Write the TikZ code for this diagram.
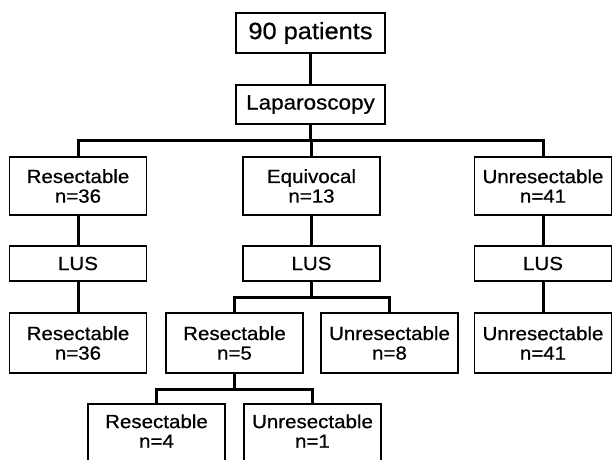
\documentclass[tikz,border=0pt]{standalone}
\usepackage{fontspec}
\setmainfont{Liberation Sans}[FakeStretch=1.08,FakeBold=0.6]
\begin{document}
\begin{tikzpicture}[x=1pt,y=-1pt,
  box/.style={draw, line width=1.3pt, inner sep=0pt, minimum width=137pt, align=center,
    font=\fontsize{19}{19.6}\selectfont},
  conn/.style={line width=3pt, line join=miter}]
\useasboundingbox (0,0) rectangle (612,459);
\clip (0,0) rectangle (612,459);
\fill[white] (0,0) rectangle (612,459);
% top
\node[box, minimum width=149pt, minimum height=40pt, font=\fontsize{23.5}{24}\selectfont] (P) at (310.5,33) {90 patients};
\node[box, minimum width=149pt, minimum height=39pt, font=\fontsize{20.8}{22}\selectfont] (L) at (310.5,104.5) {Laparoscopy};
% level 2
\node[box, minimum height=58pt] (R2) at (78,186) {Resectable\\n=36};
\node[box, minimum height=58pt] (E2) at (311.5,186) {Equivocal\\n=13};
\node[box, minimum height=58pt] (U2) at (543,186) {Unresectable\\n=41};
% LUS
\node[box, minimum height=35pt] (LR) at (78,263.5) {LUS};
\node[box, minimum height=35pt] (LE) at (311.5,263.5) {LUS};
\node[box, minimum height=35pt] (LU) at (543,263.5) {LUS};
% level 3
\node[box, minimum height=60pt] (R3) at (78,343) {Resectable\\n=36};
\node[box, minimum height=60pt] (R5) at (234.5,343) {Resectable\\n=5};
\node[box, minimum height=60pt] (U8) at (389.5,343) {Unresectable\\n=8};
\node[box, minimum height=60pt] (U41) at (543,343) {Unresectable\\n=41};
% level 4
\node[box, minimum height=64pt, text depth=10pt] (R4) at (156.5,436) {Resectable\\n=4};
\node[box, minimum height=64pt, text depth=10pt] (U1) at (312.5,436) {Unresectable\\n=1};
% bars
\coordinate (b1) at (0,140);
\coordinate (b2) at (0,297);
\coordinate (b3) at (0,389);
% connectors
\draw[conn] (P) -- (L);
\draw[conn] (L.south) -- (L.south |- b1);
\draw[conn] (R2.north) |- (U2.north |- b1) -- (U2.north);
\draw[conn] (E2.north) -- (E2.north |- b1);
\draw[conn] (R2) -- (LR);
\draw[conn] (E2) -- (LE);
\draw[conn] (U2) -- (LU);
\draw[conn] (LR) -- (R3);
\draw[conn] (LU) -- (U41);
\draw[conn] (LE.south) -- (LE.south |- b2);
\draw[conn] (R5.north) |- (U8.north |- b2) -- (U8.north);
\draw[conn] (R5.south) -- (R5.south |- b3);
\draw[conn] (R4.north) |- (U1.north |- b3) -- (U1.north);
\end{tikzpicture}
\end{document}
